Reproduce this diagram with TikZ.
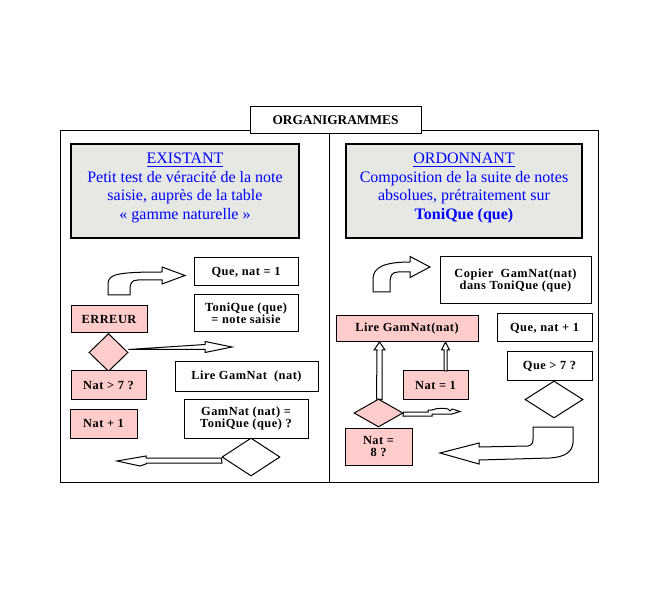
\documentclass[tikz,border=0pt]{standalone}
\usepackage{fontspec}
\setmainfont{Liberation Serif}
\newfontfamily\lblfont{Liberation Serif}[LetterSpace=4]
\usetikzlibrary{fit,shapes.geometric}
\definecolor{pinkfill}{RGB}{255,204,204}
\definecolor{grayfill}{RGB}{230,232,228}
\definecolor{textblue}{RGB}{0,0,255}
\begin{document}
\begin{tikzpicture}[x=0.75pt,y=-0.75pt,
  frame/.style={draw, line width=0.75pt},
  boxw/.style={draw, fill=white, line width=0.75pt, inner sep=0pt},
  boxp/.style={boxw, fill=pinkfill},
  headbox/.style={draw, fill=grayfill, line width=1.1pt, inner sep=0pt},
  lbl/.style={font=\lblfont\bfseries\fontsize{9.3}{9}\selectfont, align=center, inner sep=0pt},
  headtxt/.style={font=\fontsize{12}{13.9}\selectfont, text=textblue, align=center, inner sep=0pt},
  shapeline/.style={draw, fill=white, line width=0.75pt, line join=miter},
  diamw/.style={diamond, draw, fill=white, line width=0.75pt, inner sep=0pt},
  diamp/.style={diamw, fill=pinkfill}]
\useasboundingbox (0,0) rectangle (660,591);

% frame
\draw[frame] (60,131) rectangle (598,482);
\draw[frame] (329,131) -- (329,482);
\node[boxw, fit={(250,107)(421,134)}] (title) {};
\node[lbl, font=\bfseries\fontsize{10}{11}\selectfont] at (title.center) {ORGANIGRAMMES};

% header boxes
\node[headbox, fit={(71,144)(299,238)}] (hl) {};
\node[headtxt] (hlt) at (185,188) {\underline{EXISTANT}\\Petit test de véracité de la note\\saisie, auprès de la table\\« gamme naturelle »};
\node[headbox, fit={(346,144)(582,238)}] (hr) {};
\node[headtxt] (hrt) at (464,188) {\underline{ORDONNANT}\\Composition de la suite de notes\\absolues, prétraitement sur\\\textbf{ToniQue (que)}};

% ---- left column ----
\draw[shapeline] (108,295) -- (108,284) .. controls (108,274) and (118,272) .. (162,272)
  -- (162,267) -- (185,275.5) -- (162,284) -- (162,280) -- (138,280)
  .. controls (132,280) and (130,283) .. (130,289) -- (130,295) -- cycle;

\node[boxw, fit={(194,258)(298,286)}] (que1) {};
\node[lbl] at (que1.center) {Que, nat = 1};
\node[boxw, fit={(194,295)(298,332)}] (toni) {};
\node[lbl] at (toni.center) {ToniQue (que)\\= note saisie};
\node[boxp, fit={(71,306)(147,333)}] (err) {};
\node[lbl] at (err.center) {ERREUR};

\node[diamp, minimum width=29.25pt, minimum height=28.5pt] (dl) at (108.5,352.5) {};
\draw[shapeline] (dl.east) ++(0,-3) -- (205,349.5) -- (205,352.5) -- (232,347) -- (205,341.5) -- (205,344.5) -- cycle;

\node[boxp, fit={(71,371)(146,399)}] (gt7) {};
\node[lbl] at (gt7.center) {Nat > 7 ?};
\node[boxp, fit={(70,409)(137,438)}] (np1) {};
\node[lbl] at (np1.center) {Nat + 1};
\node[boxw, fit={(175,362)(318,391)}] (lirel) {};
\node[lbl] at (lirel.center) {Lire GamNat\ \ (nat)};
\node[boxw, fit={(184,399)(308,438)}] (gameq) {};
\node[lbl] at (gameq.center) {GamNat (nat) =\\ToniQue (que) ?};

\node[diamw, minimum width=43.5pt, minimum height=28.5pt] (dwl) at (251,457) {};
\draw[shapeline] (dwl.west) ++(0,1) -- (146,458) -- (146,456) -- (117,461) -- (140,466) -- (146,464) -- (146,463) -- (222,463) -- cycle;

% ---- right column ----
\draw[shapeline] (373,292) -- (373,279) .. controls (373,267) and (385,262) .. (410,262)
  -- (410,256.5) -- (430,267) -- (410,277.5) -- (410,272) -- (398,272)
  .. controls (392,272) and (390,276) .. (390,282) -- (390,292) -- cycle;

\node[boxw, fit={(440,257)(591,304)}] (copier) {};
\node[lbl] at (copier.center) {Copier\ \ GamNat(nat)\\dans ToniQue (que)};
\node[boxp, fit={(336,316)(478,342)}] (lirer) {};
\node[lbl] at (lirer.center) {Lire GamNat(nat)};
\node[boxw, fit={(497,314)(592,342)}] (quen) {};
\node[lbl] at (quen.center) {Que, nat + 1};
\node[boxw, fit={(507,352)(592,380)}] (que7) {};
\node[lbl] at (que7.center) {Que > 7 ?};
\node[boxp, fit={(403,371)(468,399)}] (nat1) {};
\node[lbl] at (nat1.center) {Nat = 1};

\node[diamp, minimum width=36.75pt, minimum height=21pt] (dr) at (378.5,413) {};
\node[boxp, fit={(345,428)(412,465)}] (nat8) {};
\node[lbl] at (nat8.center) {Nat =\\8 ?};
\node[diamw, minimum width=43.5pt, minimum height=27.75pt] (dwr) at (554,399.5) {};

% vertical arrows up to "Lire GamNat(nat)"
\draw[shapeline] (dr.north) ++(-2,0.5) -- (377,350) -- (374,350) -- (379.5,342) -- (385,350) -- (382,350) -- (382,399.5) -- cycle;
\draw[shapeline] (444,371) -- (444,350) -- (441.5,350) -- (445.5,342) -- (449.5,350) -- (447,350) -- (447,371) -- cycle;

% small wiggle arrow
\draw[shapeline] (dr.east) ++(0,-1) -- (428,412) -- (428,410) -- (432,410)
  .. controls (436,408) and (444,408) .. (448,409) -- (450,411) -- (452,409) -- (460,411.5)
  -- (452,414) -- (450,414) -- (432,414) -- (432,416) -- (403,416) -- cycle;

% big left arrow bottom right
\draw[shapeline] (440,453) -- (479,443) -- (479,447) -- (528,446)
  .. controls (532,445) and (533,443) .. (533,439) -- (533,427) -- (573,427) -- (573,443)
  .. controls (572,452) and (565,457) .. (550,458) -- (479,460) -- (479,464) -- cycle;
\end{tikzpicture}
\end{document}
